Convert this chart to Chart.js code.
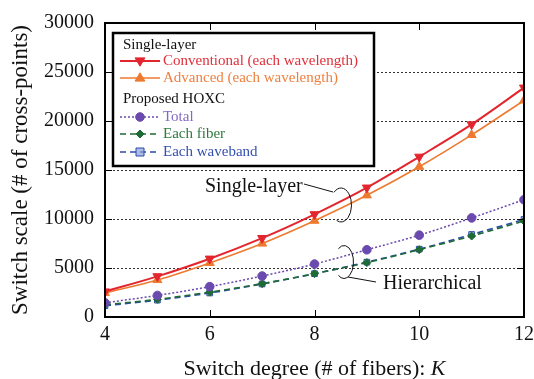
<!DOCTYPE html>
<html>
<head>
<meta charset="utf-8">
<script src="https://cdn.jsdelivr.net/npm/chart.js"></script>
<style>
  html, body { margin: 0; padding: 0; background: #fff; }
</style>
</head>
<body>
<canvas id="chart" width="534" height="379"></canvas>
<script>
const degrees = [4, 5, 6, 7, 8, 9, 10, 11, 12];
const conventional = [2600, 4150, 5950, 8050, 10480, 13200, 16350, 19650, 23400];
const advanced = [2450, 3780, 5520, 7500, 9830, 12420, 15330, 18580, 22100];
const hoxcTotal = [1450, 2200, 3100, 4180, 5400, 6860, 8350, 10110, 11970];
const eachFiber = [1250, 1800, 2540, 3400, 4420, 5550, 6870, 8260, 9800];
const eachWaveband = [1150, 1720, 2450, 3370, 4420, 5600, 6920, 8420, 9950];
const xTicks = [4, 6, 8, 10, 12];
const yTicks = [0, 5000, 10000, 15000, 20000, 25000, 30000];

const SERIF = "'Liberation Serif', 'Times New Roman', serif";

const series = [
  { label: "Conventional (each wavelength)", data: conventional, color: "#e3262e", text: "#e0303a",
    dash: [], width: 2, style: "triangle", rot: 180, r: 5.2, fill: "#e3262e" },
  { label: "Advanced (each wavelength)", data: advanced, color: "#ee7a30", text: "#ef8040",
    dash: [], width: 1.6, style: "triangle", rot: 0, r: 5.2, fill: "#ee7a30" },
  { label: "Total", data: hoxcTotal, color: "#6a4aaf", text: "#8468c4",
    dash: [2, 2], width: 1.5, style: "circle", rot: 0, r: 4.3, fill: "#6a4aaf" },
  { label: "Each fiber", data: eachFiber, color: "#1e6b35", text: "#2e7a3e",
    dash: [6, 4], width: 1.6, style: "rectRot", rot: 0, r: 4, fill: "#1e6b35" },
  { label: "Each waveband", data: eachWaveband, color: "#2c4aa8", text: "#3450ae",
    dash: [6, 4], width: 1.6, style: "rect", rot: 0, r: 4, fill: "rgba(140,160,220,0.7)" }
];

function marker(ctx, s, x, y) {
  ctx.save();
  ctx.setLineDash([]);
  ctx.fillStyle = s.fill;
  ctx.strokeStyle = s.color;
  ctx.lineWidth = 1;
  ctx.beginPath();
  const r = s.r;
  if (s.style === "triangle") {
    const d = s.rot === 180 ? -1 : 1;
    ctx.moveTo(x, y - d * r);
    ctx.lineTo(x + r * 0.95, y + d * r * 0.6);
    ctx.lineTo(x - r * 0.95, y + d * r * 0.6);
    ctx.closePath();
  } else if (s.style === "circle") {
    ctx.arc(x, y, r, 0, Math.PI * 2);
  } else if (s.style === "rectRot") {
    ctx.moveTo(x, y - r); ctx.lineTo(x + r, y); ctx.lineTo(x, y + r); ctx.lineTo(x - r, y);
    ctx.closePath();
  } else {
    ctx.rect(x - r, y - r, 2 * r, 2 * r);
  }
  ctx.fill();
  ctx.stroke();
  ctx.restore();
}

const decor = {
  id: "decor",
  beforeDatasetsDraw(chart) {
    const { ctx, chartArea: a, scales: { y } } = chart;
    ctx.save();
    ctx.strokeStyle = "#333";
    ctx.lineWidth = 1;
    ctx.setLineDash([2, 2]);
    yTicks.slice(1, -1).forEach(v => {
      const py = Math.round(y.getPixelForValue(v)) + 0.5;
      ctx.beginPath(); ctx.moveTo(a.left, py); ctx.lineTo(a.right, py); ctx.stroke();
    });
    ctx.restore();
  },
  afterDatasetsDraw(chart) {
    const { ctx, chartArea: a, scales: { x, y } } = chart;
    ctx.save();
    // inward ticks
    ctx.strokeStyle = "#000";
    ctx.lineWidth = 1;
    xTicks.forEach(v => {
      const px = Math.round(x.getPixelForValue(v)) + 0.5;
      ctx.beginPath();
      ctx.moveTo(px, a.bottom); ctx.lineTo(px, a.bottom - 7);
      ctx.moveTo(px, a.top); ctx.lineTo(px, a.top + 7);
      ctx.stroke();
    });
    yTicks.forEach(v => {
      const py = Math.round(y.getPixelForValue(v)) + 0.5;
      ctx.beginPath();
      ctx.moveTo(a.left, py); ctx.lineTo(a.left + 7, py);
      ctx.moveTo(a.right, py); ctx.lineTo(a.right - 7, py);
      ctx.stroke();
    });
    // frame
    ctx.lineWidth = 2;
    ctx.strokeRect(a.left, a.top, a.right - a.left, a.bottom - a.top);

    // legend box
    ctx.fillStyle = "#fff";
    ctx.fillRect(113, 33, 261, 133);
    ctx.lineWidth = 2.5;
    ctx.strokeRect(113, 33, 261, 133);

    ctx.font = "15px " + SERIF;
    ctx.textBaseline = "middle";
    ctx.textAlign = "left";
    ctx.fillStyle = "#111";
    ctx.fillText("Single-layer", 123, 45);
    ctx.fillText("Proposed HOXC", 123, 99);
    const rows = [61, 78, 117, 134, 152];
    series.forEach((s, i) => {
      const ly = rows[i];
      ctx.save();
      ctx.strokeStyle = s.color;
      ctx.lineWidth = s.width;
      ctx.setLineDash(s.dash);
      ctx.beginPath(); ctx.moveTo(120, ly); ctx.lineTo(160, ly); ctx.stroke();
      ctx.restore();
      marker(ctx, s, 140, ly);
      ctx.fillStyle = s.text;
      ctx.fillText(s.label, 163, ly);
    });

    // annotations
    ctx.fillStyle = "#111";
    ctx.strokeStyle = "#111";
    ctx.lineWidth = 1;
    ctx.font = "20px " + SERIF;
    ctx.fillText("Single-layer", 205, 187);
    ctx.fillText("Hierarchical", 383, 284);
    ctx.beginPath(); ctx.moveTo(304, 184); ctx.lineTo(333, 192); ctx.stroke();
    ctx.beginPath(); ctx.ellipse(341, 205, 10.5, 17, 0, -2.3, 2.0); ctx.stroke();
    ctx.beginPath(); ctx.ellipse(344, 262, 9.5, 16.5, 0, -2.2, 2.2); ctx.stroke();
    ctx.beginPath(); ctx.moveTo(348, 277); ctx.lineTo(376, 282); ctx.stroke();

    // x axis title with italic K
    const t1 = "Switch degree (# of fibers): ";
    ctx.font = "22px " + SERIF;
    const w1 = ctx.measureText(t1).width;
    ctx.font = "italic 22px " + SERIF;
    const w2 = ctx.measureText("K").width;
    const cx = (a.left + a.right) / 2;
    let sx = cx - (w1 + w2) / 2;
    ctx.fillStyle = "#111";
    ctx.font = "22px " + SERIF;
    ctx.fillText(t1, sx, 369);
    ctx.font = "italic 22px " + SERIF;
    ctx.fillText("K", sx + w1, 369);
    ctx.restore();
  }
};

new Chart(document.getElementById("chart"), {
  type: "line",
  data: {
    datasets: series.map(s => ({
      label: s.label,
      data: degrees.map((k, i) => ({ x: k, y: s.data[i] })),
      borderColor: s.color,
      backgroundColor: s.fill,
      borderWidth: s.width,
      borderDash: s.dash,
      pointStyle: s.style,
      pointRotation: s.rot,
      pointRadius: s.r,
      pointBorderColor: s.color,
      pointBorderWidth: 1,
      cubicInterpolationMode: "monotone",
      fill: false
    }))
  },
  options: {
    responsive: false,
    animation: false,
    layout: { padding: { top: 22, right: 10, left: 0, bottom: 0 } },
    plugins: { legend: { display: false }, tooltip: { enabled: false } },
    scales: {
      x: {
        type: "linear",
        min: 4,
        max: 12,
        afterBuildTicks: s => { s.ticks = xTicks.map(v => ({ value: v })); },
        afterFit: s => { s.height = 62; s.paddingLeft = 0; s.paddingRight = 0; },
        grid: { display: false, drawTicks: false },
        border: { display: false },
        ticks: { color: "#111", font: { family: SERIF, size: 20 }, padding: 6, maxRotation: 0, autoSkip: false }
      },
      y: {
        min: 0,
        max: 30000,
        afterBuildTicks: s => { s.ticks = yTicks.map(v => ({ value: v })); },
        afterFit: s => { s.width = 105; },
        grid: { display: false, drawTicks: false },
        border: { display: false },
        ticks: { color: "#111", font: { family: SERIF, size: 20 }, padding: 11, callback: v => String(v) },
        title: {
          display: true,
          text: "Switch scale (# of cross-points)",
          color: "#111",
          font: { family: SERIF, size: 23, lineHeight: 1 },
          padding: { top: 9, bottom: 0 }
        }
      }
    }
  },
  plugins: [decor]
});
</script>
</body>
</html>
